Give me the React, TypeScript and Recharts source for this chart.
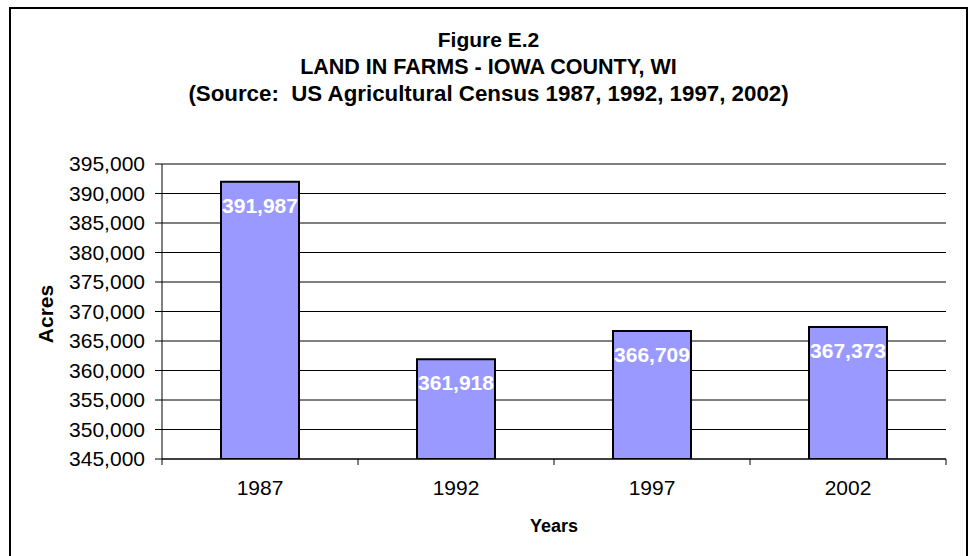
import { BarChart, Bar, XAxis, YAxis, CartesianGrid, LabelList } from 'recharts';

const years = ['1987', '1992', '1997', '2002'];
const acres = [391987, 361918, 366709, 367373];
const acreTicks = [345000, 350000, 355000, 360000, 365000, 370000, 375000, 380000, 385000, 390000, 395000];
const titleLines = [
  'Figure E.2',
  'LAND IN FARMS - IOWA COUNTY, WI',
  '(Source:  US Agricultural Census 1987, 1992, 1997, 2002)',
];
const titleSizes = [21, 21.5, 22.3];

const chartData = years.map((year, i) => ({ year, acres: acres[i] }));

const FONT = '"Liberation Sans", Arial, sans-serif';
const X_TICK_SIZE = 6;

const fmt = (v: number) => v.toLocaleString('en-US');

// Excel-style category axis: label in the middle, tick marks on the band edges
function YearTick(props: any) {
  const { x, y, payload, index, visibleTicksCount } = props;
  const half = payload?.offset || 98;
  const axisY = y - X_TICK_SIZE;
  const last = index === visibleTicksCount - 1;
  return (
    <g>
      <line x1={x - half} x2={x - half} y1={axisY} y2={axisY + X_TICK_SIZE} stroke="#000" />
      {last && <line x1={x + half} x2={x + half} y1={axisY} y2={axisY + X_TICK_SIZE} stroke="#000" />}
      <text x={x} y={y + 30} textAnchor="middle" fontSize={21} fontFamily={FONT} fill="#000">
        {payload.value}
      </text>
    </g>
  );
}

function BarValue(props: any) {
  const { x, y, width, value } = props;
  return (
    <text
      x={x + width / 2}
      y={y + 31}
      textAnchor="middle"
      fontSize={21}
      fontWeight="bold"
      fontFamily={FONT}
      fill="#fff"
    >
      {fmt(value)}
    </text>
  );
}

export default function App() {
  return (
    <div style={{ position: 'absolute', left: 0, top: 0, width: 973, height: 556, overflow: 'hidden', background: '#fff' }}>
      <div style={{ position: 'absolute', left: 9, top: 7, width: 955, height: 580, border: '2px solid #000' }} />
      <BarChart
        width={973}
        height={556}
        data={chartData}
        margin={{ top: 164, right: 27, bottom: 67, left: 62 }}
        style={{ position: 'absolute', left: 0, top: 0 }}
      >
        <CartesianGrid vertical={false} stroke="#000" />
        <XAxis
          dataKey="year"
          height={30}
          axisLine={{ stroke: '#000' }}
          tickLine={false}
          tickSize={X_TICK_SIZE}
          tickMargin={0}
          interval={0}
          tick={<YearTick />}
        />
        <YAxis
          width={100}
          domain={[345000, 395000]}
          ticks={acreTicks}
          interval={0}
          allowDataOverflow
          tickFormatter={fmt}
          tickSize={7}
          tickMargin={10}
          axisLine={{ stroke: '#000' }}
          tickLine={{ stroke: '#000' }}
          tick={{ fontSize: 21, fill: '#000', fontFamily: FONT }}
        />
        <Bar dataKey="acres" barSize={78} fill="#9999ff" stroke="#000" strokeWidth={2} isAnimationActive={false}>
          <LabelList dataKey="acres" content={<BarValue />} />
        </Bar>
      </BarChart>
      <svg width={973} height={556} style={{ position: 'absolute', left: 0, top: 0, pointerEvents: 'none' }}>
        {titleLines.map((line, i) => (
          <text
            key={i}
            x={488.5}
            y={47 + i * 27}
            textAnchor="middle"
            fontSize={titleSizes[i]}
            fontWeight="bold"
            fontFamily={FONT}
            fill="#000"
            style={{ whiteSpace: 'pre' }}
          >
            {line}
          </text>
        ))}
        <text
          x={53}
          y={314}
          transform="rotate(-90, 53, 314)"
          textAnchor="middle"
          fontSize={21}
          fontWeight="bold"
          fontFamily={FONT}
          fill="#000"
        >
          Acres
        </text>
        <text x={554} y={532} textAnchor="middle" fontSize={18} fontWeight="bold" fontFamily={FONT} fill="#000">
          Years
        </text>
      </svg>
    </div>
  );
}
